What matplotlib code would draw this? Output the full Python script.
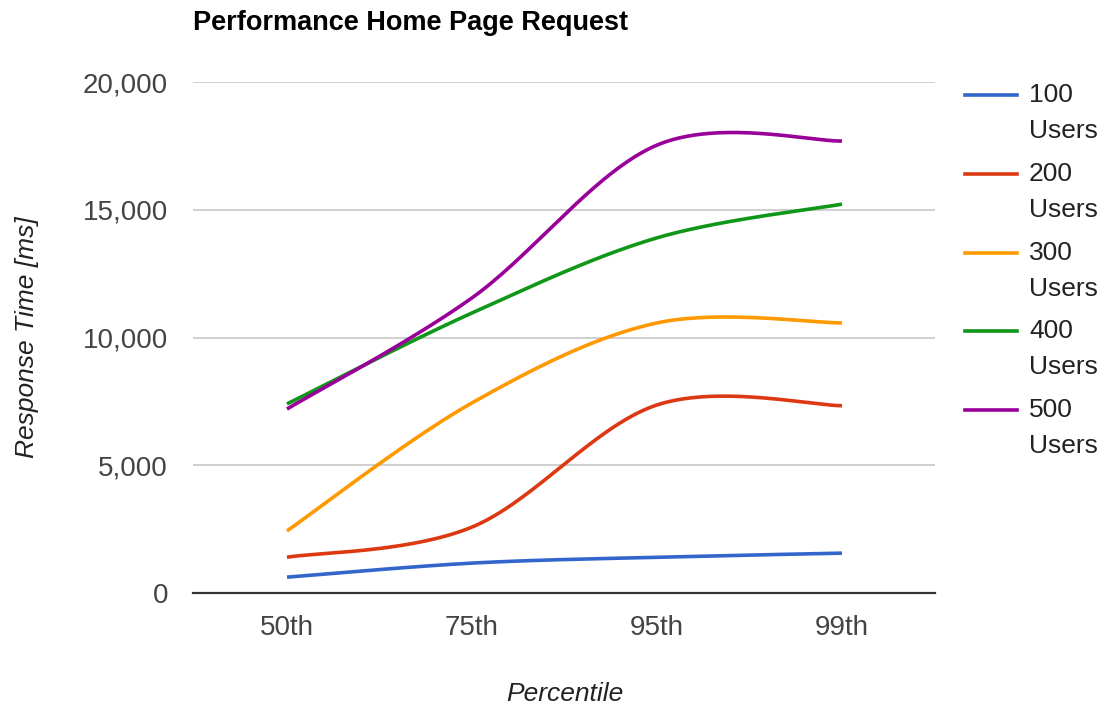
import numpy as np
import matplotlib
matplotlib.use("Agg")
import matplotlib.pyplot as plt
from matplotlib.lines import Line2D
from matplotlib.ticker import FuncFormatter

# Response time (ms) per percentile for each load level
percentiles = ["50th", "75th", "95th", "99th"]
series_names = ["100\nUsers", "200\nUsers", "300\nUsers", "400\nUsers", "500\nUsers"]
users_100 = [620, 1170, 1400, 1560]
users_200 = [1400, 2580, 7360, 7330]
users_300 = [2430, 7440, 10570, 10570]
users_400 = [7400, 10960, 13900, 15220]
users_500 = [7200, 11550, 17530, 17690]
colors = ["#3366cc", "#dc3912", "#ff9900", "#109618", "#990099"]

FONT = "Liberation Sans"
plt.rcParams["font.family"] = [FONT, "DejaVu Sans"]


def smooth(xs, ys, n=60):
    """Cubic Bezier through the points with Catmull-Rom style control points."""
    pts = np.column_stack([xs, ys]).astype(float)
    out = [pts[:1]]
    m = len(pts)
    for i in range(m - 1):
        p0 = pts[i]
        p1 = pts[i + 1]
        prev = pts[i - 1] if i > 0 else pts[i]
        nxt = pts[i + 2] if i + 2 < m else pts[i + 1]
        c1 = p0 + (p1 - prev) / 6.0
        c2 = p1 - (nxt - p0) / 6.0
        t = np.linspace(0, 1, n)[1:, None]
        seg = ((1 - t) ** 3) * p0 + 3 * ((1 - t) ** 2) * t * c1 + 3 * (1 - t) * t ** 2 * c2 + t ** 3 * p1
        out.append(seg)
    s = np.vstack(out)
    return s[:, 0], s[:, 1]


fig = plt.figure(figsize=(11.05, 7.09), dpi=100)
W, H = 1105, 709
ax = fig.add_axes([193 / W, 1 - 593 / H, (935 - 193) / W, (593 - 82) / H])

x = np.arange(len(percentiles))
all_series = [users_100, users_200, users_300, users_400, users_500]
for vals, c in zip(all_series, colors):
    sx, sy = smooth(x, vals)
    ax.plot(sx, sy, color=c, lw=2.6, solid_capstyle="butt", zorder=3)

ax.set_xlim(-0.508, 3.503)
ax.set_ylim(0, 20000)
ax.set_yticks([0, 5000, 10000, 15000, 20000])
ax.yaxis.set_major_formatter(FuncFormatter(lambda v, p: f"{int(v):,}"))
ax.set_xticks(x)
ax.set_xticklabels(percentiles)
ax.grid(axis="y", color="#cccccc", lw=1.3)
ax.set_axisbelow(True)
for s in ["top", "right", "left"]:
    ax.spines[s].set_visible(False)
ax.spines["bottom"].set_color("#333333")
ax.spines["bottom"].set_linewidth(1.6)
ax.tick_params(axis="both", length=0, labelsize=20, colors="#444444")
ax.tick_params(axis="y", pad=18)
ax.tick_params(axis="x", pad=16)

fig.text(193 / W, 1 - 23 / H, "Performance Home Page Request", fontsize=19.5, fontweight="bold",
         ha="left", va="center", color="#000000")
fig.text(565 / W, 1 - 694 / H, "Percentile", fontsize=19, style="italic",
         ha="center", va="center", color="#222222")
fig.text(27 / W, 1 - 337 / H, "Response Time [ms]", fontsize=19, style="italic",
         ha="center", va="center", rotation=90, color="#222222")

# Legend on the right
for i, (name, c) in enumerate(zip(series_names, colors)):
    yc = 95 + i * 78.8
    fig.add_artist(Line2D([965 / W, 1017 / W], [1 - yc / H, 1 - yc / H], color=c, lw=2.6,
                          transform=fig.transFigure))
    top, bottom = name.split("\n")
    fig.text(1029 / W, 1 - yc / H, top, fontsize=19, ha="left", va="center", color="#222222")
    fig.text(1029 / W, 1 - (yc + 36) / H, bottom, fontsize=19, ha="left", va="center", color="#222222")

fig.savefig("out.png", dpi=100)
